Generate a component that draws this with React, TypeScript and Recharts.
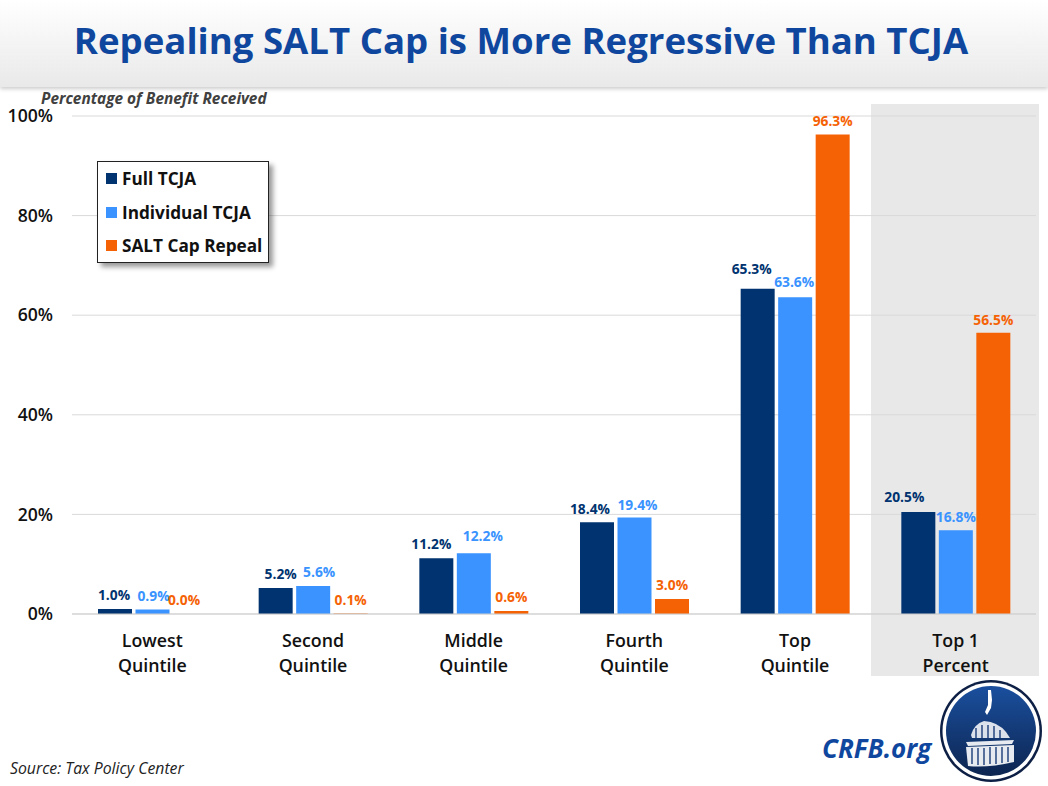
import { BarChart, Bar, XAxis, YAxis, CartesianGrid, LabelList } from 'recharts'

const categories = ['Lowest Quintile', 'Second Quintile', 'Middle Quintile', 'Fourth Quintile', 'Top Quintile', 'Top 1 Percent']
const fullTcja = [1.0, 5.2, 11.2, 18.4, 65.3, 20.5]
const individualTcja = [0.9, 5.6, 12.2, 19.4, 63.6, 16.8]
// first value rounds to 0.0%, a true 0 gets its label dropped
const saltRepeal = [0.01, 0.1, 0.6, 3.0, 96.3, 56.5]
const yTicks = [0, 20, 40, 60, 80, 100]

const NAVY = '#00336f'
const BLUE = '#3a93ff'
const ORANGE = '#f56205'
const FONT = '"Open Sans", "Noto Sans", sans-serif'

const data = categories.map((name, i) => ({
  name,
  full: fullTcja[i],
  individual: individualTcja[i],
  salt: saltRepeal[i],
}))

const legendItems = [
  { label: 'Full TCJA', color: NAVY },
  { label: 'Individual TCJA', color: BLUE },
  { label: 'SALT Cap Repeal', color: ORANGE },
]

// hand nudges for labels that were moved off their bars in the original
const nudgeFull = [[-1, 0], [5, 0], [-5, 0], [-7, 1], [-6, -6], [-14, -1]]
const nudgeIndividual = [[1, 0], [6, 0], [9, -3], [3, 2], [-1, -1], [0, 1]]
const nudgeSalt = [[-6, 0], [0, 0], [0, 0], [0, 0], [0, 1], [0, 1]]

function barLabel(color: string, nudge: number[][]) {
  return (props: any) => {
    const { x, y, width, value, index } = props
    const [dx, dy] = nudge[index]
    return (
      <text
        x={x + width / 2 + dx}
        y={y - 9 + dy}
        textAnchor="middle"
        fill={color}
        fontFamily={FONT}
        fontSize={13.8}
        fontWeight={700}
      >
        {`${Number(value).toFixed(1)}%`}
      </text>
    )
  }
}

function CategoryTick({ x, y, payload }: any) {
  const words = payload.value.split(' ')
  const lines = words.length > 2 ? [words.slice(0, 2).join(' '), words[2]] : words
  return (
    <text textAnchor="middle" fontFamily={FONT} fontSize={17.8} fontWeight={600} fill="#111">
      {lines.map((line: string, i: number) => (
        <tspan key={line} x={x} y={y + 24.5 + i * 25}>{line}</tspan>
      ))}
    </text>
  )
}

function LegendBox() {
  return (
    <div style={{ position: 'absolute', left: 97, top: 161, width: 172, height: 102, boxSizing: 'border-box', background: '#fff', border: '1px solid #222', boxShadow: '4px 4px 5px rgba(0,0,0,0.4)' }}>
      {legendItems.map((item) => (
        <div key={item.label} style={{ display: 'flex', alignItems: 'center', height: 33.5, paddingLeft: 8 }}>
          <span style={{ width: 11, height: 11, background: item.color, marginRight: 5 }} />
          <span style={{ fontFamily: FONT, fontSize: 17.2, fontWeight: 700, color: '#111', whiteSpace: 'nowrap' }}>{item.label}</span>
        </div>
      ))}
    </div>
  )
}

function Logo() {
  return (
    <svg width={106} height={106} style={{ position: 'absolute', left: 938, top: 678 }}>
      <defs>
        <linearGradient id="seal" x1="0" y1="0" x2="0" y2="1">
          <stop offset="0" stopColor="#1a4f9e" />
          <stop offset="1" stopColor="#0d2550" />
        </linearGradient>
      </defs>
      <circle cx={53} cy={53} r={51} fill="#0d1f44" />
      <circle cx={53} cy={53} r={48.5} fill="#fff" />
      <circle cx={53} cy={53} r={45} fill="url(#seal)" />
      <path d="M50 12 L53 12 L54 22 L53 30 L49 37 L47 34 L50 27 Z" fill="#fff" />
      <path d="M33 57 Q36 46 46 43 Q60 44 68 54 L72 60 L34 60 Z" fill="#fff" opacity={0.85} />
      <path d="M28 64 L76 62 L74 66 L30 68 Z" fill="#fff" opacity={0.9} />
      <path d="M28 69 L76 67 L76 84 Q50 90 30 88 Z" fill="#fff" opacity={0.9} />
      <path d="M34 70 V86 M40 70 V87 M46 70 V87 M52 69 V86 M58 69 V86 M64 69 V85 M70 69 V84 M38 50 V60 M44 47 V60 M50 47 V60 M56 48 V60 M62 52 V60" stroke="#1a3c78" strokeWidth={1.4} />
    </svg>
  )
}

export default function App() {
  return (
    <div style={{ position: 'absolute', left: 0, top: 0, width: 1048, height: 786, overflow: 'hidden', background: '#fff' }}>
      <div style={{ position: 'absolute', left: 0, top: 0, width: 1048, height: 87, background: 'linear-gradient(#ffffff, #e9e9e9)', boxShadow: '0 2px 4px rgba(0,0,0,0.2)', textAlign: 'center' }}>
        <div style={{ fontFamily: FONT, fontSize: 36.6, fontWeight: 700, color: '#0f479f', lineHeight: '81px', whiteSpace: 'nowrap', marginLeft: -6 }}>
          Repealing SALT Cap is More Regressive Than TCJA
        </div>
      </div>
      <div style={{ position: 'absolute', left: 871, top: 104, width: 168, height: 572, background: '#e8e8e8' }} />
      <div style={{ position: 'absolute', left: 41, top: 88, fontFamily: FONT, fontStyle: 'italic', fontWeight: 700, fontSize: 15.4, color: '#404040', whiteSpace: 'nowrap' }}>
        Percentage of Benefit Received
      </div>
      <div style={{ position: 'absolute', left: 0, top: 0 }}>
        <BarChart width={1048} height={786} data={data} margin={{ top: 116, right: 12, bottom: 0, left: 0 }} barSize={34} barGap={3.5}>
          <CartesianGrid vertical={false} stroke="#d9d9d9" />
          <XAxis dataKey="name" height={172} interval={0} tick={<CategoryTick />} tickLine={false} axisLine={{ stroke: '#cfcfcf' }} />
          <YAxis
            width={72}
            domain={[0, 100]}
            ticks={yTicks}
            tickFormatter={(v: number) => `${v}%`}
            tick={{ fill: '#111', fontSize: 17.6, fontWeight: 600, fontFamily: FONT }}
            tickLine={false}
            axisLine={false}
            tickMargin={13}
          />
          <Bar dataKey="full" fill={NAVY} isAnimationActive={false}>
            <LabelList dataKey="full" content={barLabel(NAVY, nudgeFull)} />
          </Bar>
          <Bar dataKey="individual" fill={BLUE} isAnimationActive={false}>
            <LabelList dataKey="individual" content={barLabel(BLUE, nudgeIndividual)} />
          </Bar>
          <Bar dataKey="salt" fill={ORANGE} isAnimationActive={false}>
            <LabelList dataKey="salt" content={barLabel(ORANGE, nudgeSalt)} />
          </Bar>
        </BarChart>
      </div>
      <LegendBox />
      <div style={{ position: 'absolute', left: 822, top: 730, fontFamily: FONT, fontStyle: 'italic', fontWeight: 700, fontSize: 26, color: '#0f479f', whiteSpace: 'nowrap' }}>
        CRFB.org
      </div>
      <div style={{ position: 'absolute', left: 10, top: 757, fontFamily: FONT, fontStyle: 'italic', fontSize: 15.8, color: '#222', whiteSpace: 'nowrap' }}>
        Source: Tax Policy Center
      </div>
      <Logo />
    </div>
  )
}
